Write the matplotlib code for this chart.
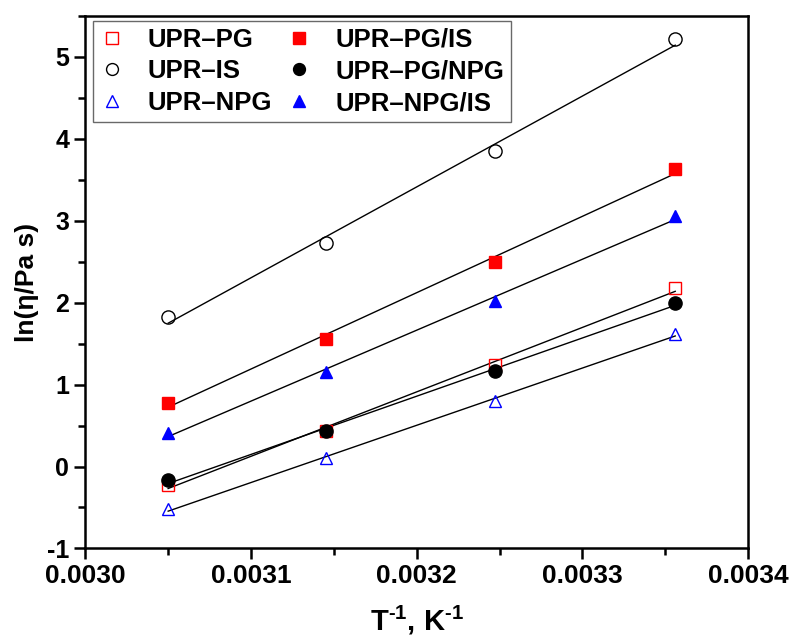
import numpy as np
import matplotlib
matplotlib.use("Agg")
import matplotlib.pyplot as plt
from matplotlib.ticker import MultipleLocator, FormatStrFormatter

plt.rcParams["font.family"] = ["Liberation Sans", "DejaVu Sans"]
plt.rcParams["mathtext.fontset"] = "custom"
plt.rcParams["mathtext.rm"] = "Liberation Sans:bold"
plt.rcParams["mathtext.bf"] = "Liberation Sans:bold"
plt.rcParams["axes.unicode_minus"] = False

# inverse temperature, 1/K
inv_T = [0.003050, 0.003145, 0.003247, 0.003356]

labels = ["UPR\u2013PG", "UPR\u2013IS", "UPR\u2013NPG",
          "UPR\u2013PG/IS", "UPR\u2013PG/NPG", "UPR\u2013NPG/IS"]
upr_pg = [-0.22, 0.43, 1.24, 2.18]
upr_is = [1.83, 2.73, 3.85, 5.22]
upr_npg = [-0.52, 0.10, 0.80, 1.62]
upr_pg_is = [0.78, 1.56, 2.50, 3.63]
upr_pg_npg = [-0.17, 0.43, 1.16, 2.00]
upr_npg_is = [0.41, 1.15, 2.02, 3.06]

series = [upr_pg, upr_is, upr_npg, upr_pg_is, upr_pg_npg, upr_npg_is]
markers = ["s", "o", "^", "s", "o", "^"]
colors = ["#ff0000", "#000000", "#0000ff", "#ff0000", "#000000", "#0000ff"]
filled = [False, False, False, True, True, True]

fig = plt.figure(figsize=(7.9, 6.37), dpi=100)
ax = fig.add_axes([0.108, 0.139, 0.839, 0.836])

x = np.array(inv_T)
for y, lab, m, c, f in zip(series, labels, markers, colors, filled):
    k, b = np.polyfit(x, y, 1)
    ax.plot(x[[0, -1]], k * x[[0, -1]] + b, color="black", lw=1, zorder=1)
    ax.plot(x, y, linestyle="none", marker=m, markersize=9 if m != "o" else 9.5,
            markerfacecolor=c if f else "none", markeredgecolor=c,
            markeredgewidth=1, label=lab, zorder=3)

ax.set_xlim(0.0030, 0.0034)
ax.set_ylim(-1, 5.5)
ax.xaxis.set_major_locator(MultipleLocator(0.0001))
ax.xaxis.set_minor_locator(MultipleLocator(0.00005))
ax.xaxis.set_major_formatter(FormatStrFormatter("%.4f"))
ax.yaxis.set_major_locator(MultipleLocator(1))
ax.yaxis.set_minor_locator(MultipleLocator(0.5))

for s in ax.spines.values():
    s.set_linewidth(1.8)
ax.tick_params(which="major", direction="out", length=8, width=1.8)
ax.tick_params(which="minor", direction="out", length=5, width=1.8)
ax.tick_params(axis="x", labelsize=19)
ax.tick_params(axis="y", labelsize=18)
for t in ax.get_xticklabels() + ax.get_yticklabels():
    t.set_fontweight("bold")

ax.set_xlabel(r"T$^{\text{-}1}$, K$^{\text{-}1}$", fontsize=21, fontweight="bold",
              labelpad=11)
ax.set_ylabel("ln(\u03b7/Pa s)", fontsize=19, fontweight="bold", labelpad=6)

leg = ax.legend(ncol=2, loc="upper left", bbox_to_anchor=(0.011, 0.990),
                borderaxespad=0, frameon=True, fancybox=False,
                edgecolor="#444444", prop={"weight": "bold", "size": 18.5},
                handletextpad=0.9, columnspacing=0.55, borderpad=0.25,
                labelspacing=0.3, handlelength=1.0, markerscale=0.9)
leg.get_frame().set_linewidth(1)

fig.savefig("out.png", dpi=100)
